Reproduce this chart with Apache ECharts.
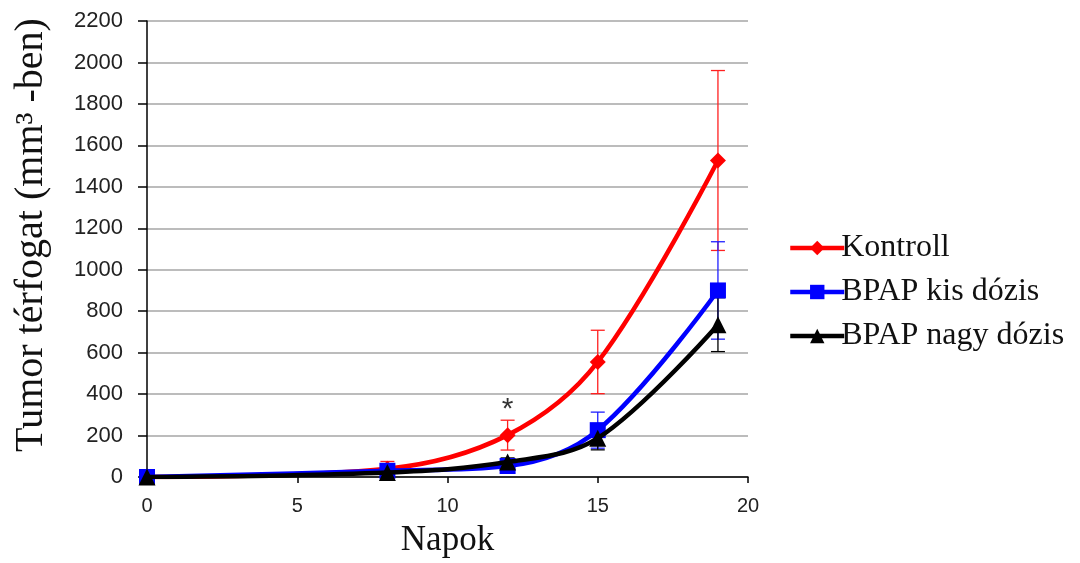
<!DOCTYPE html>
<html><head><meta charset="utf-8">
<script src="https://cdn.jsdelivr.net/npm/echarts@6/dist/echarts.min.js"></script>
<style>html,body{margin:0;padding:0;background:#fff}#c{width:1080px;height:563px}</style>
</head><body><div id="c"></div>
<script>
const days = [0, 8, 12, 15, 19];
const kontroll = [0, 40, 202, 555, 1527];
const kontrollErr = [0, 35, 72, 153, 434];
const kis = [0, 30, 53, 226, 900];
const kisErr = [0, 10, 15, 87, 235];
const nagy = [0, 22, 72, 187, 735];
const nagyErr = [0, 10, 20, 56, 130];
const yTicks = {min: 0, max: 2200, interval: 200};
const xTicks = {min: 0, max: 20, interval: 5};
const starPoint = [12, 325];

function pairs(v){ return days.map((d,i)=>[d, v[i]]); }
function errData(v, e){ return days.map((d,i)=>[d, v[i]-e[i], v[i]+e[i]]); }
function errSeries(name, v, e, color){
  return {
    name: name, type: 'custom', z: 1,
    data: errData(v, e),
    renderItem: function(params, api){
      const x = api.value(0);
      const lo = api.coord([x, api.value(1)]);
      const hi = api.coord([x, api.value(2)]);
      const w = 7;
      const st = {stroke: color, lineWidth: 1.3};
      return {type: 'group', children: [
        {type: 'line', shape: {x1: lo[0], y1: lo[1], x2: hi[0], y2: hi[1]}, style: st},
        {type: 'line', shape: {x1: lo[0]-w, y1: lo[1], x2: lo[0]+w, y2: lo[1]}, style: st},
        {type: 'line', shape: {x1: hi[0]-w, y1: hi[1], x2: hi[0]+w, y2: hi[1]}, style: st}
      ]};
    }
  };
}
const chart = echarts.init(document.getElementById('c'));
chart.setOption({
  animation: false,
  backgroundColor: '#fff',
  grid: {left: 147, right: 332, top: 21, bottom: 84},
  legend: {
    data: ['Kontroll', 'BPAP kis dózis', 'BPAP nagy dózis'],
    orient: 'vertical', left: 783, top: 227,
    itemWidth: 54, itemHeight: 18, itemGap: 12,
    lineStyle: {width: 4.5},
    textStyle: {fontFamily: 'Liberation Serif', fontSize: 32, color: '#111', lineHeight: 31, padding: [0,0,0,-8]}
  },
  xAxis: {
    type: 'value', min: xTicks.min, max: xTicks.max, interval: xTicks.interval,
    name: 'Napok', nameLocation: 'middle', nameGap: 46,
    nameTextStyle: {fontFamily: 'Liberation Serif', fontSize: 35, color: '#111'},
    axisLine: {lineStyle: {color: '#000', width: 1.5}},
    axisTick: {show: true, length: 6, lineStyle: {color: '#000', width: 1.5}},
    axisLabel: {fontFamily: 'Liberation Sans', fontSize: 20, color: '#222', margin: 19},
    splitLine: {show: false}
  },
  yAxis: {
    type: 'value', min: yTicks.min, max: yTicks.max, interval: yTicks.interval,
    name: 'Tumor térfogat (mm³ -ben)', nameLocation: 'middle', nameGap: 96, nameRotate: 90,
    nameTextStyle: {fontFamily: 'Liberation Serif', fontSize: 40, color: '#111', padding: [0,0,0,28]},
    axisLine: {show: true, lineStyle: {color: '#000', width: 1.5}},
    axisTick: {show: true, length: 9, lineStyle: {color: '#000', width: 1.5}},
    axisLabel: {fontFamily: 'Liberation Sans', fontSize: 22, color: '#222', margin: 24,
                formatter: function(v){ return String(v); }},
    splitLine: {show: true, lineStyle: {color: '#a6a6a6', width: 1.5}}
  },
  series: [
    errSeries('errK', kontroll, kontrollErr, '#ff2020'),
    errSeries('errB', kis, kisErr, '#2020ff'),
    errSeries('errN', nagy, nagyErr, '#000'),
    {name: 'Kontroll', type: 'line', smooth: 0.35, data: pairs(kontroll), z: 3,
     symbol: 'diamond', symbolSize: 16, showAllSymbol: true,
     lineStyle: {color: '#ff0000', width: 4.5}, itemStyle: {color: '#ff0000'}},
    {name: 'BPAP kis dózis', type: 'line', smooth: 0.35, data: pairs(kis), z: 4,
     symbol: 'rect', symbolSize: 16,
     lineStyle: {color: '#0000ff', width: 4.5}, itemStyle: {color: '#0000ff'}},
    {name: 'BPAP nagy dózis', type: 'line', smooth: 0.35, data: pairs(nagy), z: 5,
     symbol: 'triangle', symbolSize: 17,
     lineStyle: {color: '#000', width: 4.5}, itemStyle: {color: '#000'}},
    {name: 'star', type: 'scatter', data: [starPoint], symbolSize: 0, z: 6,
     label: {show: true, formatter: '*', position: 'inside', fontFamily: 'Liberation Sans', fontSize: 30, color: '#000'}}
  ]
});
</script></body></html>
